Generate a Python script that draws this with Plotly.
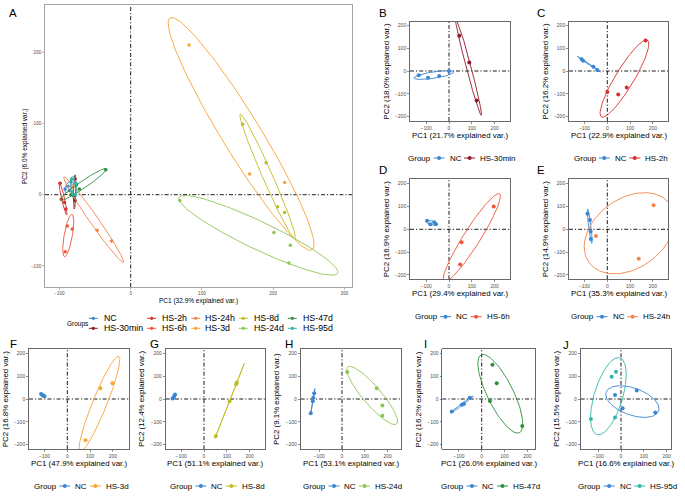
import numpy as np
import plotly.graph_objects as go

W, H = 685, 497
FONT = "Liberation Sans, Arial, Helvetica, sans-serif"

# ---------------- data ----------------
GROUPS = ["NC", "HS-30min", "HS-2h", "HS-6h", "HS-24h", "HS-3d", "HS-8d", "HS-24d", "HS-47d", "HS-95d"]
COLORS = ["#3A86D0", "#8E1B26", "#D7302E", "#F0553A", "#F4834A", "#F9A234", "#BDBE26", "#8DC653", "#2F8F3F", "#2EB8AA"]

# Panel A (all groups) PC scores
A_PC1 = {
    "NC":       [-92, -88, -84, -86],
    "HS-30min": [-78, -80, -78],
    "HS-2h":    [-99, -97, -93, -91],
    "HS-6h":    [-89, -82, -92],
    "HS-24h":   [-82, -47, -27],
    "HS-3d":    [82, 167, 216],
    "HS-8d":    [157, 190, 206, 216],
    "HS-24d":   [69, 201, 224, 222],
    "HS-47d":   [-35, -76, -72, -84],
    "HS-95d":   [-83, -77, -82, -78],
}
A_PC2 = {
    "NC":       [8, 12, 18, 6],
    "HS-30min": [22, -2, -8],
    "HS-2h":    [16, -6, -11, -20],
    "HS-6h":    [-44, -48, -80],
    "HS-24h":   [10, -50, -65],
    "HS-3d":    [210, 29, 17],
    "HS-8d":    [99, 45, -17, -25],
    "HS-24d":   [-8, -53, -71, -96],
    "HS-47d":   [35, 14, 8, 0],
    "HS-95d":   [22, 16, 4, 0],
}
A_VAR = ["32.9%", "6.0%"]

# Pairwise panels B-J: NC vs one heat-stress group
PAIR_LETTERS = ["B", "C", "D", "E", "F", "G", "H", "I", "J"]
PAIR_GROUPS = ["HS-30min", "HS-2h", "HS-6h", "HS-24h", "HS-3d", "HS-8d", "HS-24d", "HS-47d", "HS-95d"]
PAIR_PC1_VAR = ["21.7%", "22.9%", "29.4%", "35.3%", "47.9%", "51.1%", "53.1%", "26.0%", "16.6%"]
PAIR_PC2_VAR = ["18.0%", "16.2%", "16.9%", "14.9%", "16.8%", "12.4%", "9.1%", "16.2%", "15.5%"]

NC_PC1 = [
    [-133, -92, -43, 0],
    [-112, -106, -61, -44],
    [-96, -82, -65, -58],
    [-87, -76, -73, -72],
    [-115, -110, -105, -100],
    [-138, -134, -130, -127],
    [-137, -128, -126, -122],
    [-131, -87, -78, -52],
    [-26, 7, 69, 150],
]
NC_PC2 = [
    [-19, -30, -22, 0],
    [52, 45, 19, 4],
    [37, 22, 31, 22],
    [68, 41, -10, -43],
    [22, 18, 14, 12],
    [2, 6, 14, 20],
    [-62, -10, 5, 25],
    [-55, -25, -22, 5],
    [18, -41, 37, -59],
]
HS_PC1 = [
    [45, 89, 121],
    [168, 85, 48, 0],
    [196, 55, 49],
    [203, 138, -50],
    [198, 145, 80],
    [52, 112, 141, 144],
    [23, 152, 177, 177],
    [47, 66, 36, 178],
    [-132, -41, -22, -26],
]
HS_PC2 = [
    [155, 37, -129],
    [134, -72, -103, -92],
    [100, -57, -154],
    [106, -129, -29],
    [69, 47, -181],
    [-162, -10, 65, 72],
    [118, 47, -29, -74],
    [150, 69, -9, -118],
    [-88, 98, 120, -81],
]

# ---------------- layout constants (pixels) ----------------
PANEL_A = dict(box=(45, 352, 5, 287), zero=(130.7, 194.7), s=0.7125)
PAIR_BOX = [
    dict(box=(410, 510, 22, 121), zero=(449, 71)),
    dict(box=(569, 668.5, 22, 121), zero=(607.3, 71)),
    dict(box=(410, 510, 179.3, 279.3), zero=(449, 229.3)),
    dict(box=(569, 668.5, 179.3, 279.3), zero=(607.3, 229.3)),
    dict(box=(29, 129.5, 349.3, 449.3), zero=(67.3, 399)),
    dict(box=(165.7, 265, 349.3, 449.3), zero=(204, 399)),
    dict(box=(300.7, 400.7, 349.3, 449.3), zero=(342, 399)),
    dict(box=(442.3, 535, 349.3, 449.3), zero=(481.7, 399)),
    dict(box=(580.7, 671, 349.3, 449.3), zero=(621, 399)),
]
PAIR_S = 0.228
LABEL_POS = [(377, 12.5), (535, 12.5), (377, 170), (535, 170), (7.5, 344), (147.5, 344), (283, 344), (421.5, 344), (561, 345)]
LEGEND_Y = [158, 158, 316.7, 316.7, 486, 486, 486, 486, 486]

ED = np.sqrt(-2 * np.log(1 - 0.68))
CW = {'G': .778, 'r': .333, 'o': .556, 'u': .556, 'p': .556, 's': .5, 'N': .722, 'C': .722,
      'H': .722, 'S': .667, '-': .333, 'm': .833, 'i': .222, 'n': .556, 'h': .556, 'd': .556}


def tw(t, size):
    return sum(CW.get(c, .556) for c in t) * size


def px(x):
    return x / W


def py(y):
    return 1 - y / H


def ellipse(x, y):
    x = np.asarray(x, float)
    y = np.asarray(y, float)
    sigma = np.cov(np.vstack([x, y]))
    L = np.linalg.cholesky(sigma)
    th = np.linspace(-np.pi, np.pi, 120)
    circ = np.column_stack([np.cos(th), np.sin(th)])
    pts = circ @ L.T * ED + np.array([x.mean(), y.mean()])
    return pts[:, 0], pts[:, 1]


fig = go.Figure()
layout = dict(width=W, height=H, margin=dict(l=0, r=0, t=0, b=0), showlegend=False,
              paper_bgcolor="white", plot_bgcolor="white", font=dict(family=FONT, color="black"))
annotations = []
shapes = []


def add_axes(i, box, zero, s, xt, yt, tick_size, line_col):
    l, r, t, b = box
    zx, zy = zero
    sfx = "" if i == 1 else str(i)
    common = dict(showgrid=False, zeroline=False, showline=True, mirror=True, linecolor=line_col,
                  linewidth=0.8, ticks="outside", ticklen=2, tickwidth=0.6, tickcolor=line_col,
                  tickfont=dict(size=tick_size, color="#4D4D4D", family=FONT), fixedrange=True)
    layout["xaxis" + sfx] = dict(domain=[px(l), px(r)], range=[(l - zx) / s, (r - zx) / s],
                                 anchor="y" + sfx, tickvals=xt, **common)
    layout["yaxis" + sfx] = dict(domain=[py(b), py(t)], range=[(zy - b) / s, (zy - t) / s],
                                 anchor="x" + sfx, tickvals=yt, **common)
    dash = "4px,2px,1.2px,2px"
    shapes.append(dict(type="line", xref="x" + sfx, yref="y%s domain" % sfx, x0=0, x1=0, y0=0, y1=1,
                       line=dict(color="black", width=0.9, dash=dash), layer="below"))
    shapes.append(dict(type="line", yref="y" + sfx, xref="x%s domain" % sfx, y0=0, y1=0, x0=0, x1=1,
                       line=dict(color="black", width=0.9, dash=dash), layer="below"))
    return "x" + sfx, "y" + sfx


def add_group(xr, yr, x, y, col, msize, lw):
    ex, ey = ellipse(x, y)
    fig.add_trace(go.Scatter(x=ex, y=ey, mode="lines", line=dict(color=col, width=lw),
                             xaxis=xr, yaxis=yr, hoverinfo="skip"))
    fig.add_trace(go.Scatter(x=x, y=y, mode="markers", marker=dict(color=col, size=msize),
                             xaxis=xr, yaxis=yr))


def legend_key(cx, cy, col, half, dot):
    shapes.append(dict(type="line", xref="paper", yref="paper", x0=px(cx - half), x1=px(cx + half),
                       y0=py(cy), y1=py(cy), line=dict(color=col, width=1)))
    shapes.append(dict(type="circle", xref="paper", yref="paper", x0=px(cx - dot / 2), x1=px(cx + dot / 2),
                       y0=py(cy + dot / 2), y1=py(cy - dot / 2), fillcolor=col, line=dict(width=0)))


def text(x, y, s, size, xanchor="left", angle=0, color="black"):
    annotations.append(dict(x=px(x), y=py(y), xref="paper", yref="paper", text=s, showarrow=False,
                            xanchor=xanchor, yanchor="middle", textangle=angle,
                            font=dict(size=size, color=color, family=FONT)))


# ---------- Panel A ----------
l, r, t, b = PANEL_A["box"]
xr, yr = add_axes(1, PANEL_A["box"], PANEL_A["zero"], PANEL_A["s"], [-100, 0, 100, 200, 300],
                  [-100, 0, 100, 200], 4.6, "#8C8C8C")
for g, c in zip(GROUPS, COLORS):
    add_group(xr, yr, A_PC1[g], A_PC2[g], c, 3.5, 0.9)
text(7, 12.5, "A", 11.5)
text((l + r) / 2, b + 13.5, "PC1 (%s explained var.)" % A_VAR[0], 6.5, "center")
text(l - 20, (t + b) / 2, "PC2 (%s explained var.)" % A_VAR[1], 6.5, "center", -90)
text(64.5, 323.5, "Groups", 6.5)
key_x = [93.3, 151.7, 195.7, 243.3, 292.3]
txt_x = [101.7, 160, 203.3, 251.7, 301]
for k, (g, c) in enumerate(zip(GROUPS, COLORS)):
    col_i, row_i = k // 2, k % 2
    yy = 318.3 + 10 * row_i
    legend_key(key_x[col_i], yy, c, 4.5, 3.3)
    text(txt_x[col_i], yy, g, 8.8)

# ---------- Panels B-J ----------
nc_col = COLORS[0]
G1, G2, G3, KW = 5, 3, 5, 11
for i in range(9):
    cfg = PAIR_BOX[i]
    l, r, t, b = cfg["box"]
    xr, yr = add_axes(i + 2, cfg["box"], cfg["zero"], PAIR_S, [-100, 0, 100, 200],
                      [-200, -100, 0, 100, 200], 5, "#444444")
    hs_col = COLORS[GROUPS.index(PAIR_GROUPS[i])]
    add_group(xr, yr, NC_PC1[i], NC_PC2[i], nc_col, 4, 0.9)
    add_group(xr, yr, HS_PC1[i], HS_PC2[i], hs_col, 4, 0.9)
    lx, ly = LABEL_POS[i]
    text(lx, ly, PAIR_LETTERS[i], 11.5)
    text((l + r) / 2, b + 14, "PC1 (%s explained var.)" % PAIR_PC1_VAR[i], 7.9, "center")
    text(l - 24, (t + b) / 2, "PC2 (%s explained var.)" % PAIR_PC2_VAR[i], 7.9, "center", -90)
    fs = 8
    parts = tw("Group", fs) + G1 + KW + G2 + tw("NC", fs) + G3 + KW + G2 + tw(PAIR_GROUPS[i], fs)
    x0 = (l + r) / 2 - parts / 2
    yy = LEGEND_Y[i]
    text(x0, yy, "Group", fs)
    x = x0 + tw("Group", fs) + G1
    legend_key(x + KW / 2, yy, nc_col, KW / 2, 4)
    x += KW + G2
    text(x, yy, "NC", fs)
    x += tw("NC", fs) + G3
    legend_key(x + KW / 2, yy, hs_col, KW / 2, 4)
    x += KW + G2
    text(x, yy, PAIR_GROUPS[i], fs)

layout["annotations"] = annotations
layout["shapes"] = shapes
fig.update_layout(**layout)
fig.write_html("out.html", config={"displayModeBar": False, "staticPlot": True},
               post_script="document.body.style.margin='0';document.body.style.padding='0';")
